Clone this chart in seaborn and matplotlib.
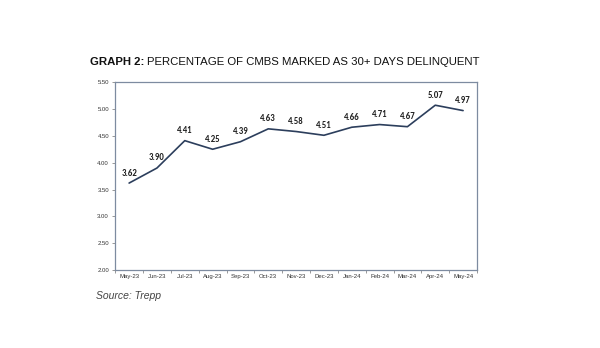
import matplotlib
matplotlib.use("Agg")
import matplotlib.pyplot as plt
import seaborn as sns
import pandas as pd
import numpy as np
from matplotlib.ticker import FixedLocator

months = ["May-23", "Jun-23", "Jul-23", "Aug-23", "Sep-23", "Oct-23", "Nov-23",
          "Dec-23", "Jan-24", "Feb-24", "Mar-24", "Apr-24", "May-24"]
rates = [3.62, 3.90, 4.41, 4.25, 4.39, 4.63, 4.58, 4.51, 4.66, 4.71, 4.67, 5.07, 4.97]
y_ticks = [2.00, 2.50, 3.00, 3.50, 4.00, 4.50, 5.00, 5.50]

df = pd.DataFrame({"month": months, "rate": rates})

sns.set_theme(style="white")
plt.rcParams['font.family'] = ['Liberation Sans', 'DejaVu Sans']

fig = plt.figure(figsize=(6.0, 3.48), dpi=100)
ax = fig.add_axes([0.192, 0.224, 0.603, 0.540])

line_color = "#2c3e5c"
sns.lineplot(data=df, x="month", y="rate", ax=ax, color=line_color, linewidth=1.2, sort=False)

ax.set_xlim(-0.5, len(months) - 0.5)
ax.set_ylim(2.0, 5.5)
ax.set_yticks(y_ticks)
ax.set_yticklabels([f"{v:.2f}" for v in y_ticks], fontsize=4.3, color="#333333")
ax.set_xticks(range(len(months)))
ax.set_xticklabels(months, fontsize=4.3, color="#333333")
ax.xaxis.set_minor_locator(FixedLocator(np.arange(-0.5, len(months), 1.0)))
ax.tick_params(axis="x", which="major", length=0, pad=3)
ax.tick_params(axis="x", which="minor", length=2.5, color="#888888", width=0.6, bottom=True)
ax.tick_params(axis="y", which="major", length=2.5, color="#888888", width=0.6, left=True, pad=2)
ax.set_xlabel("")
ax.set_ylabel("")

for s in ax.spines.values():
    s.set_color("#7d8ba0")
    s.set_linewidth(0.9)

for i, v in enumerate(rates):
    ax.annotate(f"{v:.2f}", (i, v), xytext=(0, 4), textcoords="offset points",
                ha="center", va="bottom", fontsize=6.3, fontweight="bold", color="#1f1f1f",
                family=["Carlito", "Liberation Sans", "DejaVu Sans"])

t1 = fig.text(0.150, 0.808, "GRAPH 2:", fontsize=8.2, fontweight="bold", color="#111111",
              ha="left", va="bottom")
fig.canvas.draw()
bb = t1.get_window_extent(renderer=fig.canvas.get_renderer())
x2 = (bb.x1 + 3) / fig.bbox.width
fig.text(x2, 0.808, "PERCENTAGE OF CMBS MARKED AS 30+ DAYS DELINQUENT",
         fontsize=8.2, color="#111111", ha="left", va="bottom")
fig.text(0.160, 0.135, "Source: Trepp", fontsize=7.5, style="italic", color="#444444",
         ha="left", va="bottom")

fig.savefig("out.png", dpi=100, facecolor="white")
